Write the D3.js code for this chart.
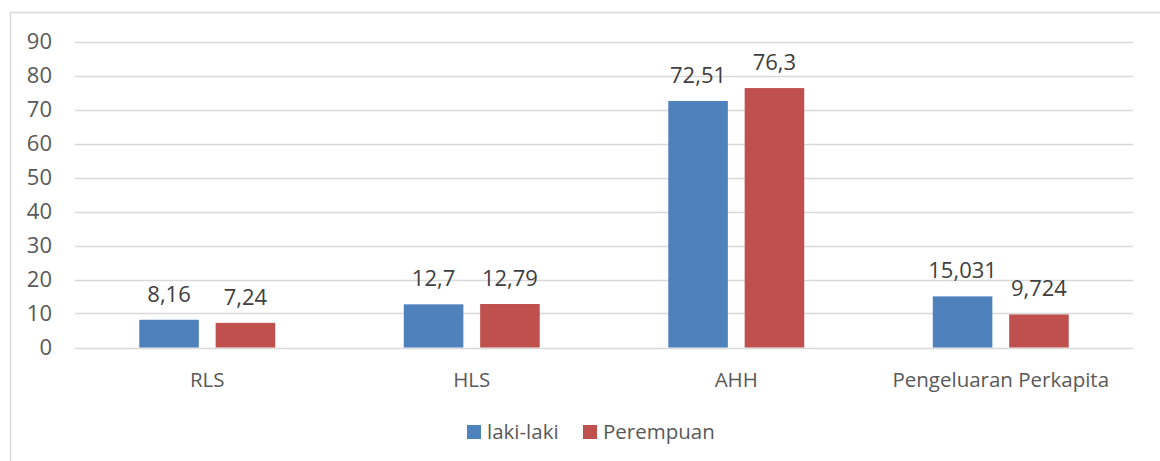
<!DOCTYPE html>
<html>
<head>
<meta charset="utf-8">
<script src="https://cdn.jsdelivr.net/npm/d3@7"></script>
<style>
  html, body { margin: 0; padding: 0; background: #fff; }
  svg { display: block; font-family: "Open Sans", Lato, sans-serif; }
</style>
</head>
<body>
<div id="chart"></div>
<script>
const categories = ['RLS', 'HLS', 'AHH', 'Pengeluaran Perkapita'];
const seriesNames = ['laki-laki', 'Perempuan'];
const lakiLaki = [8.16, 12.7, 72.51, 15.031];
const perempuan = [7.24, 12.79, 76.3, 9.724];
const valueLabels = [['8,16', '12,7', '72,51', '15,031'], ['7,24', '12,79', '76,3', '9,724']];
const yTicks = [0, 10, 20, 30, 40, 50, 60, 70, 80, 90];
const colors = ['#4F81BD', '#C0504D'];

const width = 1160;
const height = 461;
const plot = { left: 75, right: 1133, top: 41.5, bottom: 347.5 };

const svg = d3.select('#chart').append('svg')
  .attr('width', width)
  .attr('height', height);

// chart frame (runs off the right and bottom edge in the source)
svg.append('rect')
  .attr('x', 10.5).attr('y', 12.5)
  .attr('width', 1200).attr('height', 500)
  .attr('fill', 'none')
  .attr('stroke', '#D9D9D9')
  .attr('stroke-width', 1.5);

const y = d3.scaleLinear().domain([0, 90]).range([plot.bottom, plot.top]);

const x0 = d3.scaleBand()
  .domain(categories)
  .range([plot.left, plot.right])
  .paddingInner(0.486)
  .paddingOuter(0.243);

const x1 = d3.scaleBand()
  .domain(seriesNames)
  .range([0, x0.bandwidth()])
  .paddingInner(0.22)
  .paddingOuter(0);

// gridlines
svg.append('g')
  .selectAll('line')
  .data(yTicks)
  .join('line')
  .attr('x1', plot.left).attr('x2', plot.right)
  .attr('y1', (d) => Math.round(y(d)) + 0.5)
  .attr('y2', (d) => Math.round(y(d)) + 0.5)
  .attr('stroke', '#D9D9D9')
  .attr('stroke-width', 1.3);

// y tick labels
svg.append('g')
  .selectAll('text')
  .data(yTicks)
  .join('text')
  .attr('x', 52)
  .attr('y', (d) => y(d) + 7.5)
  .attr('text-anchor', 'end')
  .attr('fill', '#595959')
  .style('font-size', '22px')
  .text((d) => d);

const seriesData = [lakiLaki, perempuan];

const groups = svg.append('g')
  .selectAll('g')
  .data(categories)
  .join('g')
  .attr('transform', (d) => `translate(${x0(d)},0)`);

groups.selectAll('rect')
  .data((d, i) => seriesNames.map((s, j) => ({ s, j, v: seriesData[j][i], label: valueLabels[j][i] })))
  .join('rect')
  .attr('x', (d) => x1(d.s))
  .attr('width', x1.bandwidth())
  .attr('y', (d) => y(d.v))
  .attr('height', (d) => y(0) - y(d.v))
  .attr('fill', (d) => colors[d.j]);

groups.selectAll('text.value')
  .data((d, i) => seriesNames.map((s, j) => ({ s, j, v: seriesData[j][i], label: valueLabels[j][i] })))
  .join('text')
  .attr('class', 'value')
  .attr('x', (d) => x1(d.s) + x1.bandwidth() / 2)
  .attr('y', (d) => y(d.v) - 18)
  .attr('text-anchor', 'middle')
  .attr('fill', '#404040')
  .style('font-size', '22px')
  .text((d) => d.label);

// category labels
svg.append('g')
  .selectAll('text')
  .data(categories)
  .join('text')
  .attr('x', (d) => x0(d) + x0.bandwidth() / 2)
  .attr('y', 387)
  .attr('text-anchor', 'middle')
  .attr('fill', '#595959')
  .style('font-size', '20.5px')
  .text((d) => d);

// legend
const legendX = [467, 583];
const legend = svg.append('g')
  .selectAll('g')
  .data(seriesNames)
  .join('g')
  .attr('transform', (d, i) => `translate(${legendX[i]},425)`);

legend.append('rect')
  .attr('width', 14).attr('height', 14)
  .attr('fill', (d, i) => colors[i]);

legend.append('text')
  .attr('x', 20)
  .attr('y', 14)
  .attr('fill', '#595959')
  .style('font-size', '20.5px')
  .text((d) => d);
</script>
</body>
</html>
